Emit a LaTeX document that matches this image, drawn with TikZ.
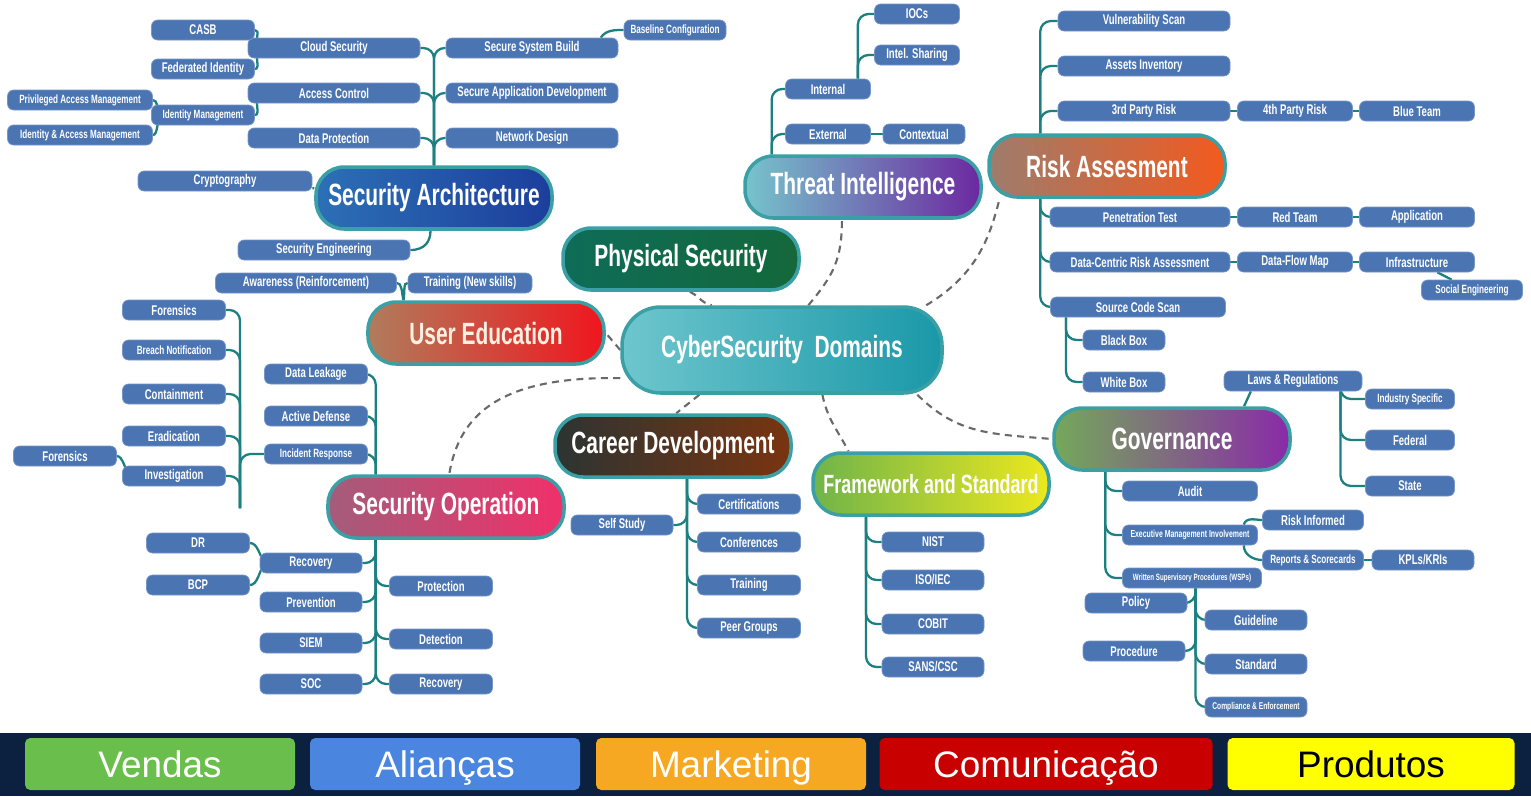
\documentclass[tikz,border=0pt]{standalone}
\usepackage{fontspec}
\newfontfamily\leaffont[FakeStretch=0.68]{Liberation Sans}
\newfontfamily\bigfont[FakeStretch=0.68]{Liberation Sans}
\newfontfamily\barfont{Liberation Sans}
\usetikzlibrary{backgrounds}

\definecolor{leafblue}{RGB}{74,117,178}
\definecolor{leafedge}{RGB}{118,150,200}
\definecolor{tealline}{RGB}{28,128,128}
\definecolor{ringteal}{RGB}{58,160,165}
\definecolor{dashgray}{RGB}{105,105,105}
\definecolor{navybar}{RGB}{12,32,64}

\tikzset{
  leaf/.style={draw=leafedge, fill=leafblue, rounded corners=3.5pt, text=white,
    font=\leaffont\bfseries\fontsize{8}{9}\selectfont, inner sep=0pt,
    minimum height=0.4cm, minimum width=#1*0.02cm},
  leaf/.default=103,
  small/.style={font=\leaffont\bfseries\fontsize{6.8}{8}\selectfont},
  tiny/.style={font=\leaffont\bfseries\fontsize{5.2}{6}\selectfont},
  topic/.style={draw=ringteal, line width=2pt, rounded corners=16pt, text=white,
    font=\bigfont\bfseries\fontsize{17.5}{20}\selectfont, inner sep=0pt,
    minimum height=1.24cm, minimum width=#1*0.02cm},
  topic/.default=236,
  branch/.style={draw=tealline, line width=1.3pt, rounded corners=6pt},
  link/.style={draw=dashgray, line width=1.2pt, dash pattern=on 4pt off 3pt},
  tab/.style={rounded corners=3pt, minimum height=1.04cm, inner sep=0pt,
    text height=15.5pt, text depth=0pt,
    font=\barfont\fontsize{21}{24}\selectfont, minimum width=#1*0.02cm}
}

\begin{document}
\begin{tikzpicture}[x=0.02cm, y=-0.02cm]
\useasboundingbox (0,0) rectangle (1531,796);

% centre and topics
\node[topic=320, minimum height=1.72cm, rounded corners=22pt, left color={rgb,255:red,110;green,198;blue,205}, right color={rgb,255:red,26;green,152;blue,168}] (root) at (782,350) {CyberSecurity\ \ Domains};
\node[topic, left color={rgb,255:red,44;green,112;blue,182}, right color={rgb,255:red,28;green,62;blue,156}] (sa) at (434,198) {Security Architecture};
\node[topic, left color={rgb,255:red,14;green,108;blue,88}, right color={rgb,255:red,20;green,104;blue,58}] (ps) at (681,259) {Physical Security};
\node[topic, left color={rgb,255:red,118;green,196;blue,204}, right color={rgb,255:red,108;green,40;blue,160}] (ti) at (863,187) {Threat Intelligence};
\node[topic, left color={rgb,255:red,158;green,124;blue,108}, right color={rgb,255:red,242;green,90;blue,30}] (ra) at (1107,166) {Risk Assesment};
\node[topic, text={rgb,255:red,255;green,240;blue,225}, left color={rgb,255:red,176;green,124;blue,92}, right color={rgb,255:red,240;green,22;blue,30}] (ue) at (486,333) {User Education};
\node[topic, left color={rgb,255:red,44;green,52;blue,50}, right color={rgb,255:red,122;green,52;blue,16}] (cd) at (673,446) {Career Development};
\node[topic, left color={rgb,255:red,164;green,92;blue,122}, right color={rgb,255:red,240;green,48;blue,106}] (so) at (446,507) {Security Operation};
\node[topic, font=\bigfont\bfseries\fontsize{15}{17}\selectfont, left color={rgb,255:red,112;green,180;blue,74}, right color={rgb,255:red,236;green,232;blue,30}] (fs) at (931,484) {Framework and Standard};
\node[topic, left color={rgb,255:red,116;green,168;blue,90}, middle color={rgb,255:red,162;green,140;blue,140}, right color={rgb,255:red,138;green,42;blue,168}] (gov) at (1172,439) {Governance};

% security architecture
\node[leaf=172] (cloud) at (334,48) {Cloud Security};
\node[leaf=172] (access) at (334,93) {Access Control};
\node[leaf=172] (dataprot) at (334,138) {Data Protection};
\node[leaf=172] (ssb) at (532,48) {Secure System Build};
\node[leaf=172] (sad) at (532,93) {Secure Application Development};
\node[leaf=172] (netd) at (532,138) {Network Design};
\node[leaf=102, small] (baseline) at (675,30) {Baseline Configuration};
\node[leaf] (casb) at (203,30) {CASB};
\node[leaf] (fed) at (203,69) {Federated Identity};
\node[leaf, small] (idm) at (203,115) {Identity Management};
\node[leaf=145, small] (pam) at (80,100) {Privileged Access Management};
\node[leaf=145, small] (iam) at (80,135) {Identity \& Access Management};
\node[leaf=174] (crypt) at (225,181) {Cryptography};
\node[leaf=172] (seceng) at (324,250) {Security Engineering};

% user education
\node[leaf=181] (aware) at (306,283) {Awareness (Reinforcement)};
\node[leaf=124] (trainns) at (470,283) {Training (New skills)};

% security operation
\node[leaf] (dleak) at (316,374) {Data Leakage};
\node[leaf] (adef) at (316,416) {Active Defense};
\node[leaf, small] (ir) at (316,454) {Incident Response};
\node[leaf] (forens) at (174,310) {Forensics};
\node[leaf, small] (breach) at (174,350) {Breach Notification};
\node[leaf] (contain) at (174,394) {Containment};
\node[leaf] (eradic) at (174,436) {Eradication};
\node[leaf] (invest) at (174,476) {Investigation};
\node[leaf] (forens2) at (65,456) {Forensics};
\node[leaf=102] (recov) at (311,563) {Recovery};
\node[leaf] (dr) at (198,543) {DR};
\node[leaf] (bcp) at (198,585) {BCP};
\node[leaf=102] (prev) at (311,602) {Prevention};
\node[leaf=102] (siem) at (311,643) {SIEM};
\node[leaf=102] (soc) at (311,684) {SOC};
\node[leaf] (protect) at (441,586) {Protection};
\node[leaf] (detect) at (441,639) {Detection};
\node[leaf] (recov2) at (441,684) {Recovery};

% career development
\node[leaf=102] (selfst) at (622,525) {Self Study};
\node[leaf] (certs) at (749,504) {Certifications};
\node[leaf] (confs) at (749,542) {Conferences};
\node[leaf] (train) at (749,585) {Training};
\node[leaf] (peer) at (749,628) {Peer Groups};

% framework and standard
\node[leaf=102] (nist) at (933,542) {NIST};
\node[leaf=102] (iso) at (933,580) {ISO/IEC};
\node[leaf=102] (cobit) at (933,624) {COBIT};
\node[leaf=102] (sans) at (933,667) {SANS/CSC};

% threat intelligence
\node[leaf=85] (internal) at (828,89) {Internal};
\node[leaf=85] (external) at (828,134) {External};
\node[leaf=82] (context) at (924,134) {Contextual};
\node[leaf=85] (iocs) at (917,14) {IOCs};
\node[leaf=85] (intel) at (917,55) {Intel. Sharing};

% risk assesment
\node[leaf=172] (vuln) at (1144,21) {Vulnerability Scan};
\node[leaf=172] (assets) at (1144,66) {Assets Inventory};
\node[leaf=172] (third) at (1144,111) {3rd Party Risk};
\node[leaf=115] (fourth) at (1295,111) {4th Party Risk};
\node[leaf=115] (blue) at (1417,111) {Blue Team};
\node[leaf=180] (pentest) at (1140,217) {Penetration Test};
\node[leaf=115] (red) at (1295,217) {Red Team};
\node[leaf=115] (app) at (1417,217) {Application};
\node[leaf=180] (dcra) at (1140,262) {Data-Centric Risk Assessment};
\node[leaf=115] (dataflow) at (1295,262) {Data-Flow Map};
\node[leaf=115] (infra) at (1417,262) {Infrastructure};
\node[leaf=101, small] (social) at (1472,290) {Social Engineering};
\node[leaf=175] (scs) at (1138,307) {Source Code Scan};
\node[leaf=82] (blackb) at (1124,340) {Black Box};
\node[leaf=82] (whiteb) at (1124,382) {White Box};

% governance
\node[leaf=138] (laws) at (1293,381) {Laws \& Regulations};
\node[leaf=89, small] (indspec) at (1410,399) {Industry Specific};
\node[leaf=89] (federal) at (1410,440) {Federal};
\node[leaf=89] (state) at (1410,486) {State};
\node[leaf=135] (audit) at (1190,491) {Audit};
\node[leaf=135, font=\leaffont\bfseries\fontsize{5.8}{7}\selectfont] (emi) at (1190,535) {Executive Management Involvement};
\node[leaf=139, tiny] (wsp) at (1192,578) {Written Supervisory Procedures (WSPs)};
\node[leaf=101] (riskinf) at (1313,520) {Risk Informed};
\node[leaf=101, small] (reports) at (1313,560) {Reports \& Scorecards};
\node[leaf=102] (kpl) at (1423,560) {KPLs/KRIs};
\node[leaf=102] (policy) at (1136,603) {Policy};
\node[leaf=102] (proced) at (1134,651) {Procedure};
\node[leaf=102] (guide) at (1256,620) {Guideline};
\node[leaf=102] (standard) at (1256,664) {Standard};
\node[leaf=102, font=\leaffont\bfseries\fontsize{5.6}{7}\selectfont] (compl) at (1256,707) {Compliance \& Enforcement};

\coordinate (irtrunk) at (240,508);

% bottom bar
\fill[navybar] (0,733) rectangle (1531,796);
\node[tab=270, fill={rgb,255:red,106;green,190;blue,75}, text=white] (vendas) at (160,764) {Vendas};
\node[tab=270, fill={rgb,255:red,74;green,134;blue,224}, text=white] (aliancas) at (445,764) {Alianças};
\node[tab=270, fill={rgb,255:red,247;green,168;blue,35}, text=white] (mkt) at (731,764) {Marketing};
\node[tab=333, fill={rgb,255:red,200;green,0;blue,0}, text=white] (comun) at (1046,764) {Comunicação};
\node[tab=287, fill={rgb,255:red,255;green,255;blue,0}, text=black] (prod) at (1371,764) {Produtos};

\begin{pgfonlayer}{background}
\fill[white] (0,0) rectangle (1531,796);

% dashed links from the centre
\draw[link] (root.west) -- (ue.east);
\draw[link] ([xshift=5pt]ps.south) .. controls +(15,8) and +(-15,-5) .. ([xshift=-40pt]root.north);
\draw[link] ([xshift=15pt]root.north) .. controls +(25,-30) and +(0,40) .. ([xshift=-12pt]ti.south);
\draw[link] ([xshift=-10pt]root.north east) .. controls +(50,-30) and +(-10,40) .. ([xshift=7pt]ra.south west);
\draw[link] ([yshift=-16pt]root.west) .. controls +(-120,-2) and +(10,-60) .. ([xshift=70pt]so.north west);
\draw[link] ([xshift=45pt]root.south west) -- ([xshift=70pt]cd.north west);
\draw[link] ([xshift=23pt]root.south) .. controls +(5,25) and +(-10,-20) .. ([xshift=-47pt]fs.north);
\draw[link] ([xshift=-15pt]root.south east) .. controls +(40,40) and +(-60,-5) .. (gov.west);

% security architecture
\foreach \n in {cloud,access,dataprot,ssb,sad,netd} \draw[branch] (sa) |- (\n);
\draw[branch] ([xshift=-10pt]ssb.north east) .. controls +(5,-8) and +(-8,0) .. (baseline.west);
\draw[branch] (casb.east) .. controls +(6,0) and +(-4,-8) .. ([xshift=6pt]cloud.west);
\draw[branch] (fed.east) .. controls +(6,0) and +(-4,8) .. ([xshift=6pt]cloud.west);
\draw[branch] (idm.east) .. controls +(6,0) and +(-4,8) .. ([xshift=6pt]access.west);
\draw[branch] (pam.east) .. controls +(5,0) and +(-3,-6) .. ([xshift=5pt]idm.west);
\draw[branch] (iam.east) .. controls +(5,0) and +(-3,6) .. ([xshift=5pt]idm.west);
\draw[branch] (crypt) -- (sa);
\draw[branch] (seceng.east) .. controls +(15,0) and +(0,10) .. ([xshift=-2pt]sa.south);

% user education
\draw[branch] (aware.east) .. controls +(5,0) and +(-2,-10) .. ([xshift=-47pt]ue.north);
\draw[branch] (trainns.west) .. controls +(-5,0) and +(2,-10) .. ([xshift=-47pt]ue.north);

% security operation
\foreach \n in {dleak,adef,ir} \draw[branch] ([xshift=-40pt]so.north) |- (\n);
\foreach \n in {recov,prev,siem,soc,protect,detect,recov2} \draw[branch] ([xshift=-40pt]so.south) |- (\n);
\foreach \n in {forens,breach,contain,eradic,invest,ir} \draw[branch] (irtrunk) |- (\n);
\draw[branch] (forens2.east) .. controls +(6,0) and +(-4,-6) .. ([xshift=4pt]invest.west);
\draw[branch] (dr.east) .. controls +(8,0) and +(-6,-8) .. ([xshift=3pt]recov.west);
\draw[branch] (bcp.east) .. controls +(8,0) and +(-6,8) .. ([xshift=3pt]recov.west);

% career development
\foreach \n in {selfst,certs,confs,train,peer} \draw[branch] ([xshift=8pt]cd.south) |- (\n);

% framework and standard
\foreach \n in {nist,iso,cobit,sans} \draw[branch] ([xshift=-37pt]fs.south) |- (\n);

% threat intelligence
\foreach \n in {internal,external} \draw[branch] ([xshift=-52pt]ti.north) |- (\n);
\foreach \n in {iocs,intel} \draw[branch] ([xshift=17pt]internal.north) |- (\n);
\draw[branch] (external) -- (context);

% risk assesment
\foreach \n in {vuln,assets,third} \draw[branch] ([xshift=-38pt]ra.north) |- (\n);
\foreach \n in {pentest,dcra,scs} \draw[branch] ([xshift=-38pt]ra.south) |- (\n);
\draw[branch] (third) -- (fourth) -- (blue);
\draw[branch] (pentest) -- (red) -- (app);
\draw[branch] (dcra) -- (dataflow) -- (infra);
\draw[branch] (infra) -- (social);
\foreach \n in {blackb,whiteb} \draw[branch] ([xshift=-41pt]scs.south) |- (\n);

% governance
\draw[branch] ([xshift=41pt]gov.north) -- ([xshift=-24pt]laws.south);
\foreach \n in {indspec,federal,state} \draw[branch] ([xshift=27pt]laws.south) |- (\n);
\foreach \n in {audit,emi,wsp} \draw[branch] ([xshift=-38pt]gov.south) |- (\n);
\draw[branch] ([xshift=-8pt]emi.north east) .. controls +(2,-8) and +(-6,0) .. (riskinf.west);
\draw[branch] ([xshift=-8pt]emi.south east) .. controls +(0,10) and +(-8,0) .. (reports.west);
\draw[branch] (reports) -- (kpl);
\foreach \n in {policy,proced,guide,standard,compl} \draw[branch] ([xshift=2pt]wsp.south) |- (\n);
\end{pgfonlayer}
\end{tikzpicture}
\end{document}
